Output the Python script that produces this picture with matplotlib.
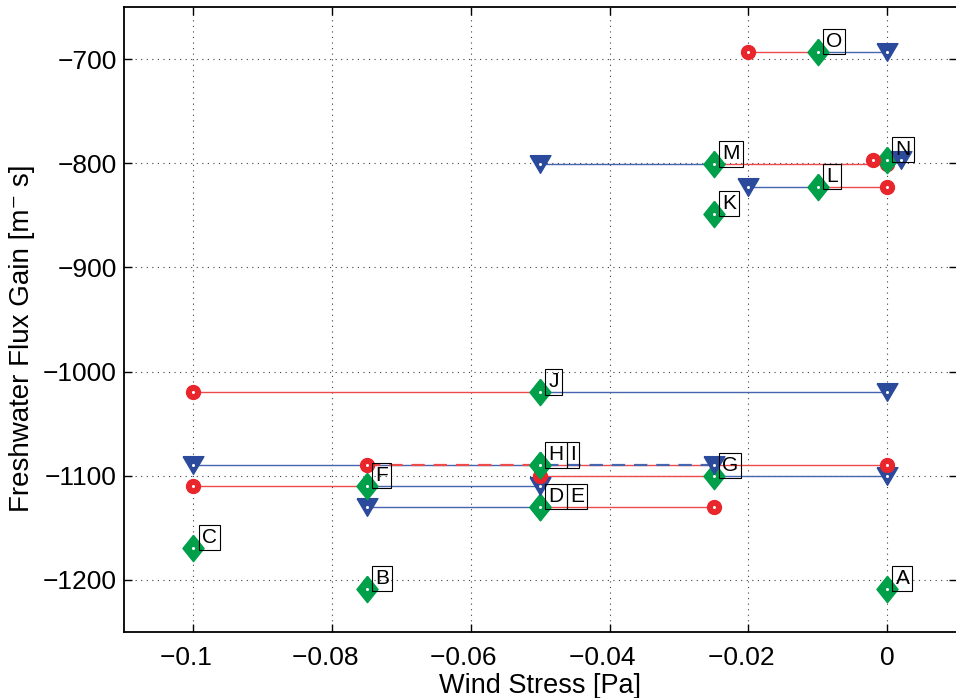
import numpy as np
import matplotlib.pyplot as plt
from matplotlib.ticker import FuncFormatter

plt.rcParams['font.family'] = ['Liberation Sans', 'DejaVu Sans']

# experiments: diamond position, red-circle and blue-triangle wind stress
labels = ["A", "B", "C", "D", "E", "F", "G", "H", "I", "J", "K", "L", "M", "N", "O"]
stress = [0.0, -0.075, -0.1, -0.05, -0.05, -0.075, -0.025, -0.05, -0.05, -0.05,
          -0.025, -0.01, -0.025, 0.0, -0.01]
flux = [-1209, -1209, -1169, -1130, -1130, -1110, -1100, -1090, -1090, -1020,
        -849, -823, -801, -797, -693]
stress_red = [np.nan, np.nan, np.nan, -0.025, np.nan, -0.1, -0.05, 0.0, -0.075, -0.1,
              np.nan, 0.0, 0.0, -0.002, -0.02]
stress_blue = [np.nan, np.nan, np.nan, -0.075, np.nan, -0.05, 0.0, -0.1, -0.025, 0.0,
               np.nan, -0.02, -0.05, 0.002, 0.0]
dashed = ["I"]
# labels drawn right after the previous one's box
joined = ["E", "I"]

red = "#e8262b"
blue = "#2b4a9c"
green = "#00a04b"
red_line = "#ee4a4a"
blue_line = "#4565ae"
diamond = [(0, 1), (0.8, 0), (0, -1), (-0.8, 0), (0, 1)]
tri_down = [(-1, 0.85), (1, 0.85), (0, -0.85), (-1, 0.85)]


def marker(x, y, shape, size, color):
    ax.plot(x, y, marker=shape, ms=size, mew=1, mfc=color, mec=color, ls="none", zorder=3)
    ax.plot(x, y, marker="o", ms=2.2, mew=0, mfc="white", ls="none", zorder=3)


fig = plt.figure(figsize=(9.56, 6.98), dpi=100)
ax = fig.add_axes([124 / 956, 1 - 632 / 698, (956.5 - 124) / 956, (632 - 7) / 698])

prev_txt = None
for i, lab in enumerate(labels):
    x, y = stress[i], flux[i]
    ls = (0, (6, 4)) if lab in dashed else "-"
    lw = 1.6 if lab in dashed else 1.0
    if not np.isnan(stress_red[i]):
        ax.plot([stress_red[i], x], [y, y], color=red_line, lw=lw, ls=ls, zorder=2)
    if not np.isnan(stress_blue[i]):
        ax.plot([stress_blue[i], x], [y, y], color=blue_line, lw=lw, ls=ls, zorder=2)
    marker(x, y, diamond, 19, green)
    if not np.isnan(stress_red[i]):
        marker(stress_red[i], y, "o", 10, red)
    if not np.isnan(stress_blue[i]):
        marker(stress_blue[i], y, tri_down, 15, blue)

    box = dict(boxstyle="square,pad=0.15", fc="none", ec="black", lw=0.8)
    if lab in joined and prev_txt is not None:
        txt = ax.annotate(lab, xy=(1, 0.5), xycoords=prev_txt, xytext=(4.5, 0),
                          textcoords="offset points", ha="left", va="center",
                          fontsize=15, bbox=box, zorder=4)
    else:
        txt = ax.annotate(lab, xy=(x, y), xytext=(6, 7.5), textcoords="offset points",
                          ha="left", va="center", fontsize=15, bbox=box, zorder=4)
    prev_txt = txt


def xfmt(v, p):
    s = "%g" % round(v, 4)
    if v < 0:
        # pad so the digits, not the minus sign, sit under the tick
        return "\u2212" + s[1:] + "\u2007"
    return s


ax.set_xlim(-0.11, 0.01)
ax.set_ylim(-1250, -650)
ax.set_xticks([-0.1, -0.08, -0.06, -0.04, -0.02, 0])
ax.set_yticks([-1200, -1100, -1000, -900, -800, -700])
ax.xaxis.set_major_formatter(FuncFormatter(xfmt))
ax.yaxis.set_major_formatter(FuncFormatter(lambda v, p: ("%g" % v).replace("-", "\u2212")))
ax.tick_params(direction="in", length=6, width=1, labelsize=19, top=True, right=True)
ax.tick_params(axis="y", pad=5)
ax.tick_params(axis="x", pad=10)
ax.grid(True, ls=(0, (1, 4)), color="0.25", lw=0.8)
for s in ax.spines.values():
    s.set_linewidth(1.3)

ax.set_xlabel("Wind Stress [Pa]", fontsize=19.5, labelpad=2)
ax.set_ylabel("Freshwater Flux Gain [m\u207b s]", fontsize=20, va="center")
ax.yaxis.set_label_coords(-0.123, 0.47)

fig.savefig("out.png", dpi=100)
